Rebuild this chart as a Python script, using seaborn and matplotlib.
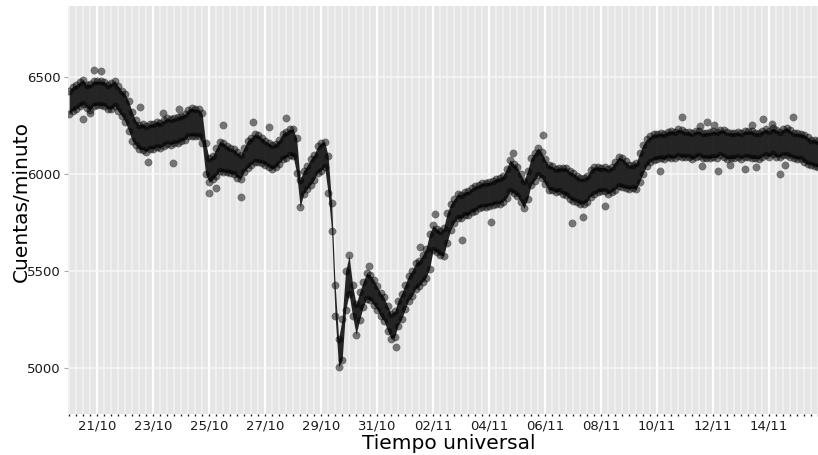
import numpy as np
import pandas as pd
import matplotlib
matplotlib.use("Agg")
import matplotlib.pyplot as plt
import matplotlib.dates as mdates
import seaborn as sns

# ---------------- data ----------------
start_time = "2003-10-20 00:00"
step = "3h"

# central count rate of the dense cloud, every 3 h (8 per day)
counts_mid = [
    6370, 6385, 6400, 6410, 6415, 6405, 6400, 6410,   # 20/10
    6415, 6420, 6410, 6400, 6405, 6410, 6390, 6370,   # 21/10
    6340, 6300, 6250, 6210, 6195, 6190, 6185, 6190,   # 22/10
    6195, 6200, 6205, 6210, 6215, 6220, 6220, 6230,   # 23/10
    6235, 6245, 6260, 6270, 6265, 6260, 6240, 6080,   # 24/10
    6020, 6030, 6060, 6090, 6090, 6080, 6070, 6060,   # 25/10
    6050, 6040, 6070, 6100, 6120, 6130, 6135, 6125,   # 26/10
    6110, 6095, 6090, 6095, 6110, 6140, 6155, 6160,   # 27/10
    6165, 6100, 5900, 5960, 5980, 6010, 6040, 6070,   # 28/10
    6090, 6100, 6000, 5780, 5350, 5080, 5150, 5400,   # 29/10
    5480, 5350, 5250, 5320, 5380, 5420, 5420, 5390,   # 30/10
    5360, 5330, 5300, 5260, 5215, 5230, 5280, 5320,   # 31/10
    5370, 5410, 5440, 5470, 5490, 5510, 5540, 5600,   # 01/11
    5670, 5660, 5640, 5650, 5720, 5780, 5810, 5830,   # 02/11
    5835, 5845, 5850, 5860, 5875, 5885, 5890, 5895,   # 03/11
    5895, 5905, 5910, 5915, 5920, 5950, 5990, 5980,   # 04/11
    5960, 5930, 5900, 5940, 6010, 6040, 6060, 6050,   # 05/11
    6010, 5985, 5975, 5970, 5970, 5965, 5960, 5945,   # 06/11
    5935, 5925, 5915, 5910, 5925, 5950, 5970, 5975,   # 07/11
    5975, 5970, 5965, 5970, 5990, 6010, 6010, 6000,   # 08/11
    5985, 5985, 5990, 6030, 6080, 6110, 6130, 6135,   # 09/11
    6140, 6140, 6145, 6150, 6150, 6155, 6160, 6160,   # 10/11
    6155, 6150, 6145, 6150, 6155, 6150, 6145, 6150,   # 11/11
    6150, 6155, 6160, 6155, 6150, 6145, 6150, 6150,   # 12/11
    6145, 6150, 6155, 6150, 6145, 6150, 6155, 6160,   # 13/11
    6160, 6165, 6160, 6155, 6160, 6165, 6160, 6150,   # 14/11
    6145, 6140, 6130, 6125, 6115, 6110, 6105,         # 15/11
]

# upper / lower half width of the dense cloud at the same times
counts_up = [
    60, 66, 58, 64, 70, 56, 62, 68,
    64, 58, 66, 60, 62, 70, 64, 60,
    72, 75, 70, 66, 60, 68, 62, 66,
    64, 70, 60, 66, 72, 62, 68, 64,
    66, 62, 72, 70, 68, 74, 72, 80,
    60, 64, 72, 75, 70, 66, 62, 68,
    62, 58, 66, 72, 68, 74, 66, 62,
    60, 64, 58, 62, 66, 68, 62, 70,
    66, 85, 70, 58, 62, 66, 60, 72,
    70, 66, 95, 70, 80, 70, 105, 100,
    100, 78, 80, 70, 64, 68, 60, 66,
    62, 58, 64, 60, 66, 62, 68, 64,
    60, 66, 62, 70, 64, 72, 76, 90,
    66, 58, 64, 70, 78, 64, 60, 66,
    58, 64, 60, 66, 62, 58, 64, 60,
    62, 58, 66, 64, 70, 78, 82, 72,
    76, 70, 66, 76, 72, 68, 74, 62,
    66, 60, 64, 58, 62, 66, 72, 68,
    70, 66, 62, 68, 64, 72, 66, 62,
    58, 64, 60, 66, 72, 76, 70, 66,
    60, 64, 66, 76, 72, 68, 64, 70,
    66, 70, 62, 68, 72, 64, 70, 66,
    62, 68, 64, 70, 66, 60, 68, 64,
    70, 62, 66, 72, 64, 68, 62, 66,
    64, 70, 66, 72, 68, 62, 66, 70,
    62, 72, 68, 64, 70, 74, 66, 62,
    64, 68, 72, 66, 62, 66, 64,
]
counts_down = [
    62, 58, 66, 60, 56, 64, 70, 58,
    60, 66, 58, 64, 70, 60, 66, 70,
    70, 76, 78, 62, 68, 64, 70, 60,
    66, 60, 70, 64, 58, 68, 62, 70,
    64, 70, 66, 72, 70, 66, 78, 82,
    62, 58, 68, 76, 78, 72, 66, 62,
    68, 64, 60, 68, 72, 66, 74, 68,
    62, 58, 64, 60, 56, 64, 70, 62,
    74, 95, 72, 64, 58, 66, 70, 64,
    72, 64, 100, 72, 82, 74, 110, 100,
    100, 82, 78, 72, 66, 62, 70, 64,
    60, 64, 58, 68, 64, 70, 62, 68,
    68, 62, 70, 62, 68, 66, 74, 88,
    62, 64, 58, 72, 74, 68, 62, 58,
    64, 58, 62, 56, 66, 60, 58, 64,
    58, 64, 62, 68, 62, 74, 80, 78,
    74, 72, 76, 70, 68, 74, 66, 70,
    62, 66, 58, 64, 60, 68, 70, 74,
    72, 68, 70, 62, 68, 66, 74, 68,
    64, 58, 66, 62, 70, 74, 78, 72,
    62, 58, 68, 72, 78, 70, 68, 62,
    64, 60, 70, 64, 68, 72, 66, 74,
    68, 62, 70, 64, 60, 68, 62, 70,
    64, 70, 62, 66, 72, 64, 70, 62,
    66, 62, 68, 70, 64, 72, 66, 62,
    70, 64, 72, 66, 62, 68, 72, 66,
    68, 62, 70, 74, 66, 70, 68,
]

# isolated readings outside the dense cloud (days after start, counts/min)
outlier_days = [0.51, 0.73, 0.90, 1.14, 2.54, 2.81, 3.35, 3.70, 3.94, 4.99,
                5.25, 5.49, 6.15, 6.58, 7.15, 7.75, 10.70, 11.66, 12.54, 13.08,
                14.05, 15.07, 15.85, 16.94, 17.95, 18.35, 19.15, 21.10, 21.89,
                22.80, 23.17, 24.15, 24.80, 25.40, 25.85,
                22.55, 22.60, 23.05, 23.62, 24.40, 24.52, 25.10, 25.58]
outlier_counts = [6282, 6313, 6536, 6532, 6344, 6063, 6313, 6055, 6333, 5904,
                  5926, 6254, 5883, 6266, 6241, 6287, 5526, 5110, 5622, 5794,
                  5660, 5754, 6110, 6199, 5749, 5777, 5835, 6014, 6292,
                  6270, 6017, 6027, 6285, 6002, 6292,
                  6250, 6040, 6255, 6045, 6255, 6035, 6260, 6045]

tick_dates = ["2003-10-21", "2003-10-23", "2003-10-25", "2003-10-27", "2003-10-29",
              "2003-10-31", "2003-11-02", "2003-11-04", "2003-11-06", "2003-11-08",
              "2003-11-10", "2003-11-12", "2003-11-14"]
y_ticks = [5000, 5500, 6000, 6500]

# ---------------- build tables ----------------
times = pd.date_range(start_time, periods=len(counts_mid), freq=step)
mid = np.array(counts_mid, dtype=float)
df = pd.DataFrame({"time": times,
                   "lo": mid - np.array(counts_down, dtype=float),
                   "hi": mid + np.array(counts_up, dtype=float)})
long = df.melt(id_vars="time", value_vars=["lo", "hi"], value_name="counts")
out = pd.DataFrame({
    "time": pd.Timestamp(start_time) + pd.to_timedelta(outlier_days, unit="D"),
    "counts": outlier_counts,
})

# ---------------- plot ----------------
sns.set_theme(style="darkgrid", rc={"axes.facecolor": "#E5E5E5", "grid.color": "white"})
plt.rcParams["font.family"] = ["DejaVu Sans"]

fig = plt.figure(figsize=(8.18, 4.55), dpi=100)
ax = fig.add_axes([68 / 818, 1 - 414 / 455, 750 / 818, 408 / 455])
ax.set_facecolor("#E5E5E5")

ax.fill_between(df["time"], df["lo"], df["hi"], color="#151515", alpha=0.93,
                linewidth=0, zorder=2)
sns.scatterplot(data=long, x="time", y="counts", color="black", alpha=0.5, s=28,
                edgecolor="#1a1a1a", linewidth=0.3, ax=ax, zorder=3, legend=False)
sns.scatterplot(data=out, x="time", y="counts", color="black", alpha=0.5, s=28,
                edgecolor="#1a1a1a", linewidth=0.3, ax=ax, zorder=3, legend=False)

t0 = pd.Timestamp(start_time)
ax.set_xlim(t0 - pd.Timedelta(hours=1), t0 + pd.Timedelta(days=26.75))
ax.set_ylim(4763, 6866)

ax.set_xticks(pd.to_datetime(tick_dates))
ax.xaxis.set_major_formatter(mdates.DateFormatter("%d/%m"))
ax.xaxis.set_minor_locator(mdates.HourLocator(byhour=[0, 6, 12, 18]))
ax.set_yticks(y_ticks)

ax.grid(which="major", axis="y", color="#F7F7F7", linewidth=1.1)
ax.grid(which="major", axis="x", color="white", linewidth=1.6)
ax.grid(which="minor", axis="x", color="#F2F2F2", linewidth=1.2)
ax.set_axisbelow(True)
for sp in ax.spines.values():
    sp.set_visible(False)

ax.tick_params(axis="y", which="major", left=True, length=3, width=0.8,
               color="#AAAAAA", labelsize=9.5, labelcolor="#1a1a1a", pad=2)
ax.tick_params(axis="x", which="both", bottom=True, length=1.5, width=1.0,
               color="#222222", labelsize=9.5, labelcolor="#1a1a1a", pad=2.5)

ax.set_xlabel("Tiempo universal", fontsize=14.5, color="black")
ax.set_ylabel("Cuentas/minuto", fontsize=14.5, color="black")
ax.yaxis.set_label_coords(-0.050, 0.52)
ax.xaxis.set_label_coords(0.507, -0.050)

fig.savefig("out.png", dpi=100)
